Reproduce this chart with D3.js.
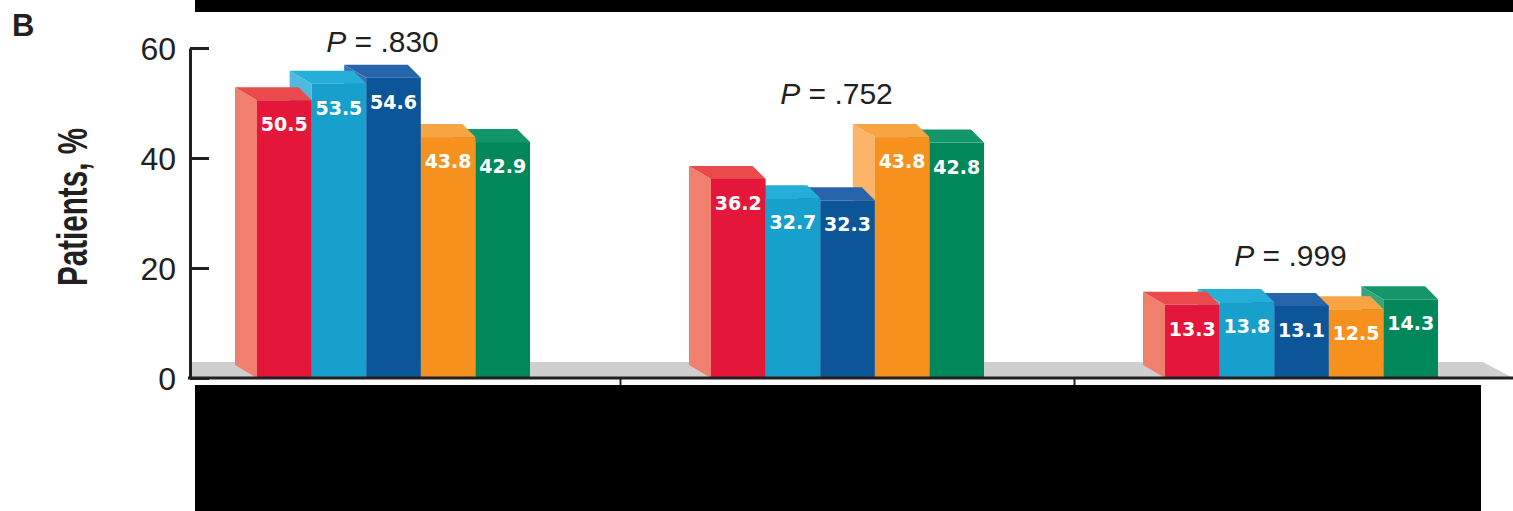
<!DOCTYPE html>
<html>
<head>
<meta charset="utf-8">
<script src="https://cdn.jsdelivr.net/npm/d3@7"></script>
<style>
  html, body { margin: 0; padding: 0; background: #fff; }
  svg { display: block; }
</style>
</head>
<body>
<svg id="chart" width="1513" height="511"></svg>
<script>
"use strict";

// chart data (category and arm names are hidden in the source picture)
const groups = ['g1', 'g2', 'g3'];
const arms = ['a1', 'a2', 'a3', 'a4', 'a5'];
const values = [
    [50.5, 53.5, 54.6, 43.8, 42.9],
    [36.2, 32.7, 32.3, 43.8, 42.8],
    [13.3, 13.8, 13.1, 12.5, 14.3]
];
const pValues = ['.830', '.752', '.999'];
const yTicks = [0, 20, 40, 60];
const yLabel = 'Patients, %';
const panelLabel = 'B';

// face colours per arm: front, top, left side
const palette = [
    { front: '#e4173a', top: '#ea4a4c', side: '#f07f6e' },
    { front: '#16a0cb', top: '#25aed8', side: '#4dbbdf' },
    { front: '#0b5598', top: '#2765ab', side: '#3a74b4' },
    { front: '#f6911e', top: '#f8a443', side: '#fbb468' },
    { front: '#00875a', top: '#13966a', side: '#35a67c' }
];

const svg = d3.select('#chart');
const base = 378;
const axisX = 190;
const depthL = 22;   // visible left side depth
const depthR = 13;   // top face slant at the right
const depthY = 13;

const y = d3.scaleLinear().domain([0, 60]).range([base, 48]);
const x = d3.scaleBand().domain(groups).range([166.5, 1528.5]);
const inner = d3.scaleBand().domain(arms).range([-136.5, 136.5]);

// grey floor
svg.append('polygon')
    .attr('points', [[axisX, base], [1513, base], [1483, base - 16], [axisX, base - 16]].join(' '))
    .attr('fill', '#cfcfcf');

// 3d bars, drawn right to left so the left bar hides the next one's side
groups.forEach(function (g, gi) {
    const cx = x(g) + x.bandwidth() / 2;
    const gEl = svg.append('g').attr('class', 'group');
    for (let i = arms.length - 1; i >= 0; i--) {
        const v = values[gi][i];
        const x1 = cx + inner(arms[i]);
        const x2 = x1 + inner.bandwidth();
        const yt = y(v);
        const c = palette[i];
        gEl.append('polygon')
            .attr('points', [[x1, yt], [x1 - depthL, yt - depthY], [x1 - depthL, base - depthY], [x1, base]].join(' '))
            .attr('fill', c.side);
        gEl.append('polygon')
            .attr('points', [[x1, yt], [x1 - depthL, yt - depthY], [x2 - depthR, yt - depthY], [x2, yt]].join(' '))
            .attr('fill', c.top);
        gEl.append('rect')
            .attr('x', x1)
            .attr('y', yt)
            .attr('width', x2 - x1)
            .attr('height', base - yt)
            .attr('fill', c.front);
    }
    // value labels
    gEl.selectAll('.val')
        .data(values[gi])
        .enter()
        .append('text')
        .attr('class', 'val')
        .attr('x', function (d, i) { return cx + inner(arms[i]) + inner.bandwidth() / 2; })
        .attr('y', function (d) { return y(d) + 31; })
        .attr('text-anchor', 'middle')
        .attr('font-family', '"DejaVu Sans", sans-serif')
        .attr('font-weight', 'bold')
        .attr('font-size', 19)
        .attr('fill', '#fff')
        .text(function (d) { return d.toFixed(1); });

    // P value above the group, kept below the top of the axis
    const pt = svg.append('text')
        .attr('x', cx - 11)
        .attr('y', Math.max(y(d3.max(values[gi])) - 33, y(60) + 4))
        .attr('text-anchor', 'middle')
        .attr('font-family', '"Liberation Sans", Arial, sans-serif')
        .attr('font-size', 30)
        .attr('fill', '#231f20');
    pt.append('tspan').attr('font-style', 'italic').text('P');
    pt.append('tspan').text(' = ' + pValues[gi]);
});

// baseline with group separators
svg.append('line')
    .attr('x1', axisX - 2).attr('x2', 1513)
    .attr('y1', base).attr('y2', base)
    .attr('stroke', '#231f20').attr('stroke-width', 3);
svg.selectAll('.sep')
    .data(groups.slice(1))
    .enter()
    .append('line')
    .attr('class', 'sep')
    .attr('x1', function (d) { return x(d); })
    .attr('x2', function (d) { return x(d); })
    .attr('y1', base).attr('y2', base + 10)
    .attr('stroke', '#231f20').attr('stroke-width', 2);

// y axis, ticks pointing into the plot
const yAxis = d3.axisLeft(y)
    .tickValues(yTicks)
    .tickSizeInner(-19)
    .tickSizeOuter(0)
    .tickPadding(14);
const ax = svg.append('g')
    .attr('transform', 'translate(' + axisX + ',0)')
    .call(yAxis);
ax.select('.domain').attr('stroke', '#231f20').attr('stroke-width', 3);
ax.selectAll('.tick line').attr('stroke', '#231f20').attr('stroke-width', 3);
ax.selectAll('.tick text')
    .attr('font-family', '"Liberation Sans", Arial, sans-serif')
    .attr('font-size', 32)
    .attr('fill', '#231f20')
    .attr('dy', '0.36em');

svg.append('text')
    .attr('transform', 'translate(87,207) rotate(-90)')
    .attr('text-anchor', 'middle')
    .attr('font-family', '"Liberation Sans", Arial, sans-serif')
    .attr('font-weight', 'bold')
    .attr('font-size', 42)
    .attr('textLength', 158)
    .attr('lengthAdjust', 'spacingAndGlyphs')
    .attr('fill', '#231f20')
    .text(yLabel);

svg.append('text')
    .attr('x', 12).attr('y', 36)
    .attr('font-family', '"Liberation Sans", Arial, sans-serif')
    .attr('font-weight', 'bold')
    .attr('font-size', 31)
    .attr('fill', '#231f20')
    .text(panelLabel);

// redaction boxes present in the source
svg.append('rect').attr('x', 195).attr('y', 0).attr('width', 1318).attr('height', 12).attr('fill', '#000');
svg.append('rect').attr('x', 195).attr('y', 385).attr('width', 1286).attr('height', 126).attr('fill', '#000');
</script>
</body>
</html>
